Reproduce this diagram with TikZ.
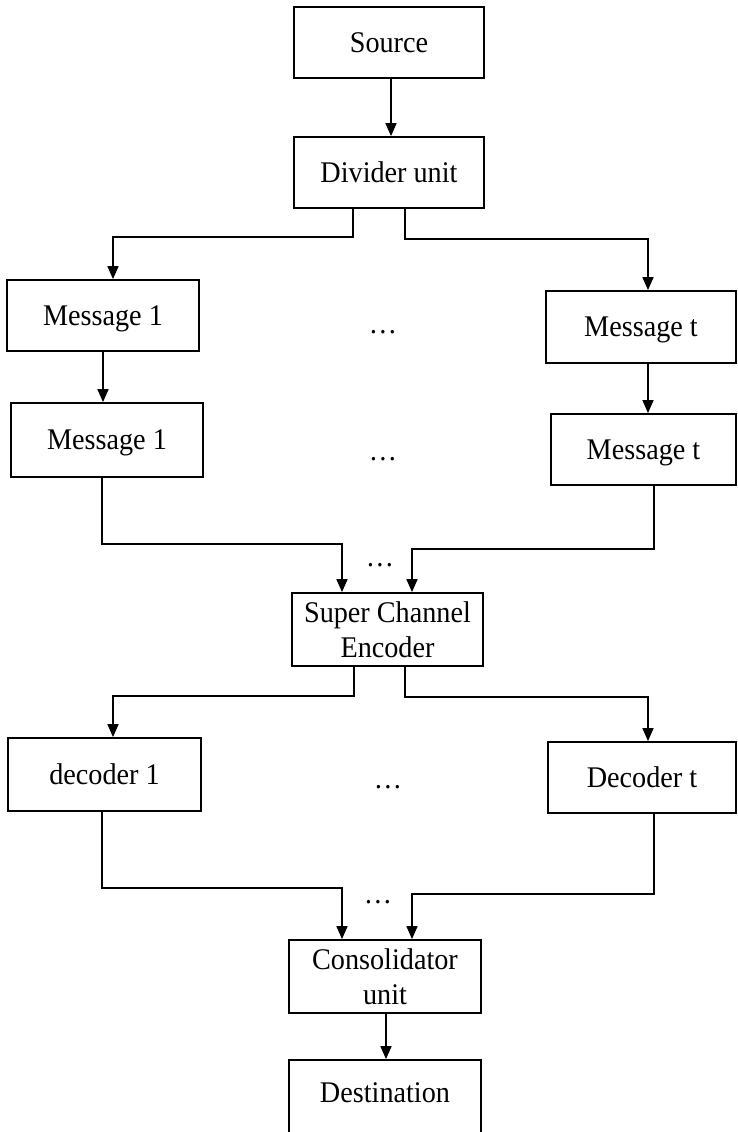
\documentclass[tikz,border=0pt]{standalone}
\usepackage{fontspec}
\setmainfont{Liberation Serif}[FakeStretch=0.94]
\usetikzlibrary{arrows.meta}
\begin{document}
\begin{tikzpicture}[x=1pt,y=-1pt,
  every node/.style={font=\fontsize{30}{35.5}\selectfont},
  blk/.style={draw, line width=1.8pt, inner sep=0pt, text height=19.5pt, text depth=0pt},
  blk2/.style={draw, line width=1.8pt, inner sep=0pt, align=center},
  arr/.style={line width=1.7pt, -{Triangle[length=13pt,width=11pt]}},
  dots/.style={anchor=base, inner sep=0pt}]
\useasboundingbox (0,0) rectangle (737,1132);
% boxes
\node[blk, minimum width=190, minimum height=71] (src) at (389,42.5) {Source};
\node[blk, minimum width=190, minimum height=71] (div) at (389,172.5) {Divider unit};
\node[blk, minimum width=192, minimum height=71] (m1a) at (103,315.5) {Message 1};
\node[blk, minimum width=190, minimum height=72] (mta) at (641,327) {Message t};
\node[blk, minimum width=192, minimum height=74] (m1b) at (107,440) {Message 1};
\node[blk, minimum width=185, minimum height=71] (mtb) at (643.5,449.5) {Message t};
\node[blk2, minimum width=191, minimum height=73] (sce) at (387.5,629.5) {Super Channel\\Encoder};
\node[blk, minimum width=193, minimum height=73] (d1) at (104.5,774.5) {decoder 1};
\node[blk, minimum width=188, minimum height=71] (dt) at (642,777.5) {Decoder t};
\node[blk2, minimum width=192, minimum height=73] (con) at (385,976.5) {Consolidator\\unit};
\node[blk, text depth=8pt, minimum width=192, minimum height=74] (dst) at (385,1097) {Destination};
% dots
\node[dots] (e1) at (383,333) {…};
\node[dots] (e2) at (383,460) {…};
\node[dots] (e3) at (380,566) {…};
\node[dots] (e4) at (388,788) {…};
\node[dots] (e5) at (378,903) {…};
% coordinates
\coordinate (a1) at (353,237);
\coordinate (a2) at (405,239);
\coordinate (b1) at (102,544);
\coordinate (b2) at (654,549);
\coordinate (c1) at (354,696);
\coordinate (c2) at (405,697);
\coordinate (g1) at (102,888);
\coordinate (g2) at (654,894);
% connectors
\draw[arr] ([xshift=2]src.south) -- ([xshift=2]div.north);
\draw[arr] (div.south -| a1) -- (a1) -| ([xshift=10]m1a.north);
\draw[arr] (div.south -| a2) -- (a2) -| ([xshift=7]mta.north);
\draw[arr] (m1a.south) -- (m1a.south |- m1b.north);
\draw[arr] ([xshift=7]mta.south) -- ([xshift=7]mta.south |- mtb.north);
\draw[arr] (m1b.south -| b1) -- (b1) -| ([xshift=-45.5]sce.north);
\draw[arr] (mtb.south -| b2) -- (b2) -| ([xshift=24.5]sce.north);
\draw[arr] (sce.south -| c1) -- (c1) -| ([xshift=8.5]d1.north);
\draw[arr] (sce.south -| c2) -- (c2) -| ([xshift=6]dt.north);
\draw[arr] (d1.south -| g1) -- (g1) -| ([xshift=-43]con.north);
\draw[arr] (dt.south -| g2) -- (g2) -| ([xshift=27]con.north);
\draw[arr] ([xshift=1]con.south) -- ([xshift=1]dst.north);
\end{tikzpicture}
\end{document}
